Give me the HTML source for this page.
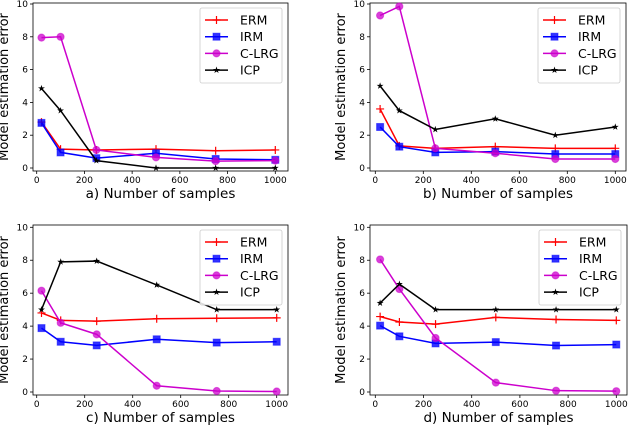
<!DOCTYPE html>
<html><head><meta charset="utf-8"><style>
body{margin:0;background:#fff;}
svg{display:block;font-family:"DejaVu Sans","Liberation Sans",sans-serif;}
</style></head><body>
<svg id="fig" width="640" height="442" viewBox="0 0 640 442"></svg>
<script>
const xVals=[20,100,250,500,750,1000];
const xTicks=[0,200,400,600,800,1000];
const yTicks=[0,2,4,6,8,10];
const seriesNames=["ERM","IRM","C-LRG","ICP"];
const aERM=[2.8,1.15,1.1,1.15,1.05,1.1];
const aIRM=[2.75,0.95,0.6,0.9,0.55,0.5];
const aCLRG=[7.95,8.0,1.1,0.65,0.42,0.45];
const aICP=[4.85,3.5,0.45,0,0,0];
const bERM=[3.6,1.35,1.2,1.3,1.2,1.2];
const bIRM=[2.5,1.3,0.95,1.0,0.85,0.85];
const bCLRG=[9.3,9.85,1.2,0.9,0.55,0.55];
const bICP=[5.0,3.5,2.35,3.0,2.0,2.5];
const cERM=[4.8,4.35,4.3,4.45,4.48,4.5];
const cIRM=[3.88,3.05,2.83,3.2,3.0,3.05];
const cCLRG=[6.15,4.2,3.5,0.38,0.06,0.03];
const cICP=[5.0,7.9,7.95,6.5,5.0,5.0];
const dERM=[4.58,4.25,4.12,4.53,4.4,4.35];
const dIRM=[4.03,3.38,2.95,3.03,2.82,2.88];
const dCLRG=[8.05,6.25,3.28,0.57,0.08,0.05];
const dICP=[5.4,6.55,5.0,5.0,5.0,5.0];
const panelTitles=["a) Number of samples","b) Number of samples","c) Number of samples","d) Number of samples"];

const NS="http://www.w3.org/2000/svg";
const svg=document.getElementById('fig');
function mk(tag,attrs,parent){const e=document.createElementNS(NS,tag);for(const k in attrs)e.setAttribute(k,attrs[k]);(parent||svg).appendChild(e);return e;}
const colors=["#ff0000","#0000ff","#cc00cc","#000000"];
function marker(g,kind,cx,cy,c){
  if(kind===0){mk('path',{d:`M${cx-4},${cy}H${cx+4}M${cx},${cy-4}V${cy+4}`,stroke:c,'stroke-width':1.2},g);}
  else if(kind===1){mk('rect',{x:cx-3.5,y:cy-3.5,width:7,height:7,fill:c,'fill-opacity':0.8,stroke:c,'stroke-opacity':0.5},g);}
  else if(kind===2){mk('circle',{cx:cx,cy:cy,r:3.6,fill:c,'fill-opacity':0.75,stroke:c,'stroke-opacity':0.5},g);}
  else {let p='';for(let i=0;i<10;i++){const r=i%2?1.4:3.6;const a=-Math.PI/2+i*Math.PI/5;p+=(i?'L':'M')+(cx+r*Math.cos(a)).toFixed(2)+','+(cy+r*Math.sin(a)).toFixed(2);}mk('path',{d:p+'Z',fill:c},g);}
}
function panel(id,L,R,T,B,x0,x1,y0,y10,data,title){
  const g=mk('g',{});
  
  
  const sx=v=>x0+(x1-x0)*v/1000, sy=v=>y0+(y10-y0)*v/10;
  mk('rect',{x:L,y:T,width:R-L,height:B-T,fill:'none',stroke:'#000','stroke-width':0.8},g);
  xTicks.forEach(t=>{const x=sx(t);mk('line',{x1:x,x2:x,y1:B,y2:B+3,stroke:'#000','stroke-width':0.8},g);
    const tx=mk('text',{x:x,y:B+12,'font-size':9,'text-anchor':'middle'},g);tx.textContent=t;
    });
  yTicks.forEach(t=>{const y=sy(t);mk('line',{x1:L-3,x2:L,y1:y,y2:y,stroke:'#000','stroke-width':0.8},g);
    const tx=mk('text',{x:L-5,y:y+3,'font-size':9,'text-anchor':'end'},g);tx.textContent=t;
    });
  const xt=mk('text',{x:(L+R)/2,y:B+27,'font-size':13.5,'text-anchor':'middle'},g);xt.textContent=title;
  
  const yc=(T+B)/2, yx=L-25;
  const yt=mk('text',{x:yx,y:yc,'font-size':13,'text-anchor':'middle',transform:`rotate(-90 ${yx} ${yc})`},g);yt.textContent='Model estimation error';
  
  data.forEach((arr,k)=>{
    const sg=mk('g',{},g);
    
    
    mk('polyline',{points:arr.map((v,i)=>sx(xVals[i])+','+sy(v)).join(' '),fill:'none',stroke:colors[k],'stroke-width':1.5},sg);
    arr.forEach((v,i)=>marker(sg,k,sx(xVals[i]),sy(v),colors[k]));
  });
  // legend
  const lx=R-88, ly=T+5;
  const lg=mk('g',{},g);
  
  
  mk('rect',{x:lx,y:ly,width:82,height:75,rx:2,fill:'#fff','fill-opacity':0.85,stroke:'#ccc','stroke-width':0.8},lg);
  seriesNames.forEach((n,k)=>{const yy=ly+12+k*16.7;
    const eg=mk('g',{},lg);
    
    
    mk('line',{x1:lx+5,x2:lx+28,y1:yy,y2:yy,stroke:colors[k],'stroke-width':1.5},eg);
    marker(eg,k,lx+16.5,yy,colors[k]);
    const t=mk('text',{x:lx+40,y:yy+4.5,'font-size':12.5},eg);t.textContent=n;});
}
panel('a',33,288,3,171,36.7,275.3,168,4,[aERM,aIRM,aCLRG,aICP],panelTitles[0]);
panel('b',370,626,3,171,375.3,615.3,168,4,[bERM,bIRM,bCLRG,bICP],panelTitles[1]);
panel('c',33,288,225,395,36.7,276.7,392,227.3,[cERM,cIRM,cCLRG,cICP],panelTitles[2]);
panel('d',370,627,225,395,375.3,616.3,392,227.3,[dERM,dIRM,dCLRG,dICP],panelTitles[3]);
</script>
</body></html>
